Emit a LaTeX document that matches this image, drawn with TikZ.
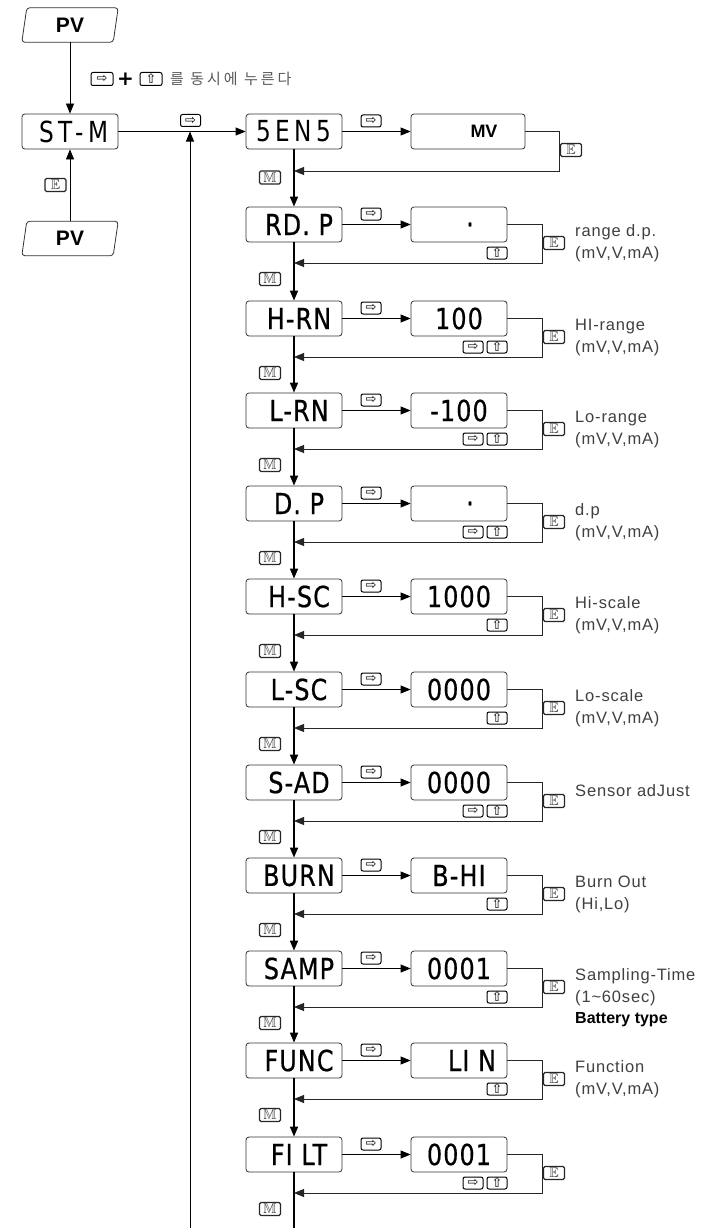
\documentclass[tikz,border=0pt]{standalone}
\usepackage{fontspec}
\usepackage{amssymb}
\usetikzlibrary{arrows.meta,calc}
\newfontfamily\lcd[FakeStretch=0.82,LetterSpace=4,FakeBold=0.6]{DejaVu Sans}
\newfontfamily\lcdw[FakeStretch=0.8,LetterSpace=16]{DejaVu Sans}
\newfontfamily\dvs{DejaVu Sans}
\newfontfamily\desc[LetterSpace=5]{Liberation Sans}
\newfontfamily\lib{Liberation Sans}
\newfontfamily\kr[LetterSpace=20]{Noto Sans CJK KR}
\tikzset{
 lbox/.style={draw=black!80, line width=0.8pt, rounded corners=3pt, minimum width=96pt, minimum height=35pt, inner sep=0pt, font=\lcd\fontsize{29}{29}\selectfont},
 wbox/.style={lbox, minimum width=114pt, font=\lib\bfseries\fontsize{18}{18}\selectfont},
 pvbox/.style={minimum width=96pt, minimum height=34pt, inner sep=0pt, font=\lib\bfseries\fontsize{21}{21}\selectfont},
 pvshape/.style={draw=black!80, line width=0.8pt, rounded corners=3pt},
 keyb/.style={draw=black, line width=1pt, rounded corners=2pt, minimum width=20pt, minimum height=12pt, inner sep=0pt, font=\dvs\fontsize{13}{13}\selectfont},
 emkey/.style={draw=black!85, line width=1.1pt, rounded corners=1.5pt, minimum width=21pt, minimum height=13pt, inner sep=0pt, font=\fontsize{14}{14}\selectfont, text=black!80},
 tip/.style={-{Triangle[length=10pt,width=8pt]}},
 vline/.style={line width=1.6pt, tip},
 hline/.style={line width=0.8pt, tip},
 loopline/.style={line width=0.8pt, draw=black!85, tip},
 desctext/.style={font=\desc\fontsize{16.5}{22}\selectfont, text=black!75, anchor=base west, inner sep=0pt},
}
% row: #1 index, #2 top y, #3 label, #4 value, #5 extra code
\newcommand{\drow}[5]{%
 \node[lbox] (L#1) at (294,#2+17.5) {\hspace*{10pt}#3};
 \node[lbox] (V#1) at (459,#2+17.5) {#4};
 \draw[hline] (L#1) -- (V#1);
 \node[keyb] (K#1) at (371,#2+7) {⇨};
 \node[emkey] (E#1) at (554,#2+36) {$\mathbb{E}$};
 \node[emkey] (M#1) at (270,#2+72) {$\mathbb{M}$};
 \coordinate (R#1) at (294,#2+56);
 \draw[loopline] (V#1.east) -- ++(35,0) |- (R#1);
 #5
}
\newcommand{\upkey}[2]{\node[keyb] (U#1) at (497,#2+46) {⇧};}
\newcommand{\bothkeys}[2]{\node[keyb] (S#1) at (473,#2+46) {⇨};\node[keyb] (U#1) at (497,#2+46) {⇧};}
\newcommand{\dtwo}[4]{\node[desctext] (Da#1) at (575,#2+29) {#3};\node[desctext] (Db#1) at (575,#2+51) {#4};}
\begin{document}
\begin{tikzpicture}[x=1pt,y=-1pt]
\useasboundingbox[fill=white] (0,0) rectangle (706,1228);
% PV boxes
\node[pvbox] (pv1) at (70,25) {PV};
\node[pvbox] (pv2) at (70,238.5) {PV};
\foreach \p in {pv1,pv2}{
 \draw[pvshape] ($(\p.north west)+(5,0)$) -- (\p.north east) -- ($(\p.south east)+(-5,0)$) -- (\p.south west) -- cycle;
}
% ST-M
\node[lbox] (stm) at (70,131.5) {\hspace*{8pt}\lcdw ST-M};
\draw[hline] (pv1) -- (stm);
\draw[hline] (pv2) -- (stm);
\node[emkey] (Estm) at (55.5,185) {$\mathbb{E}$};
% instruction line
\node[keyb, minimum width=22pt, minimum height=13pt] (ka) at (102,79) {⇨};
\node[inner sep=0pt, font=\dvs\bfseries\fontsize{20}{20}\selectfont] (plus) at (125.5,79) {+};
\node[keyb, minimum width=22pt, minimum height=13pt] (kb) at (151,79) {⇧};
\node[anchor=west, inner sep=0pt, font=\kr\fontsize{15}{15}\selectfont, text=black!65] (ktext) at (170,79) {를 동시에 누른다};
% row 0
\node[lbox] (L0) at (294,131.5) {\lcdw 5EN5};
\node[wbox] (V0) at (468,131.5) {\hspace*{32pt}MV};
\draw[hline] (stm) -- (L0);
\node[keyb] (Kstm) at (190.5,120.5) {⇨};
\coordinate (j190) at (190,131.5);
\coordinate (b190) at (190,1228);
\draw[hline] (b190) -- (j190);
\draw[hline] (L0) -- (V0);
\node[keyb] (K0) at (371,121) {⇨};
\node[emkey] (E0) at (571,150) {$\mathbb{E}$};
\node[emkey] (M0) at (270,177.5) {$\mathbb{M}$};
\coordinate (R0) at (294,171);
\draw[loopline] (V0.east) -- ++(34,0) |- (R0);
% rows
\drow{1}{207}{RD. P}{\hspace*{22pt}.}{\upkey{1}{207}\dtwo{1}{207}{range d.p.}{(mV,V,mA)}}
\drow{2}{301}{H-RN}{100}{\bothkeys{2}{301}\dtwo{2}{301}{HI-range}{(mV,V,mA)}}
\drow{3}{393}{L-RN}{-100}{\bothkeys{3}{393}\dtwo{3}{393}{Lo-range}{(mV,V,mA)}}
\drow{4}{486}{D. P}{\hspace*{22pt}.}{\bothkeys{4}{486}\dtwo{4}{486}{d.p}{(mV,V,mA)}}
\drow{5}{579}{H-SC}{1000}{\upkey{5}{579}\dtwo{5}{579}{Hi-scale}{(mV,V,mA)}}
\drow{6}{672}{L-SC}{0000}{\upkey{6}{672}\dtwo{6}{672}{Lo-scale}{(mV,V,mA)}}
\drow{7}{765}{S-AD}{0000}{\bothkeys{7}{765}\node[desctext] (Da7) at (575,796) {Sensor adJust};}
\drow{8}{858}{BURN}{B-HI}{\upkey{8}{858}\dtwo{8}{858}{Burn Out}{(Hi,Lo)}}
\drow{9}{951}{SAMP}{0001}{\upkey{9}{951}\dtwo{9}{951}{Sampling-Time}{(1\char"007E 60sec)}\node[desctext, font=\lib\bfseries\fontsize{16}{16}\selectfont, text=black] (Dc9) at (575,1023) {Battery type};}
\drow{10}{1043}{FUNC}{\hspace*{26pt}LI N}{\upkey{10}{1043}\dtwo{10}{1043}{Function}{(mV,V,mA)}}
\drow{11}{1137}{FI LT}{0001}{\bothkeys{11}{1137}}
% main vertical chain
\foreach \i [evaluate=\i as \j using int(\i+1)] in {0,...,10}{
 \draw[vline] (L\i) -- (L\j);
}
\coordinate (b294) at (294,1228);
\draw[line width=1.6pt] (L11) -- (b294);
\end{tikzpicture}
\end{document}
